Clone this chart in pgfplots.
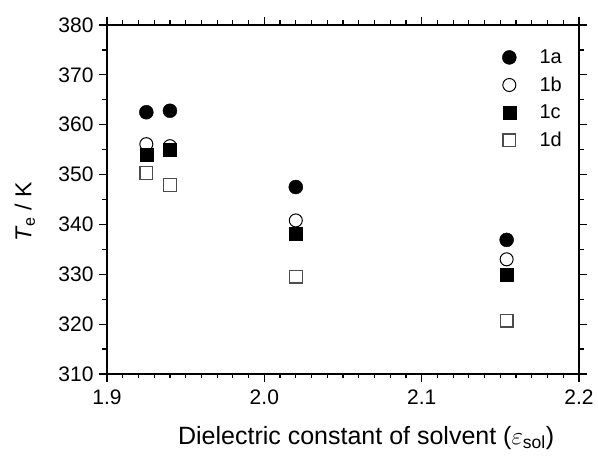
\documentclass[border=0pt]{standalone}
\usepackage{fontspec}
\setmainfont{Liberation Sans}
\usepackage{pgfplots}
\pgfplotsset{compat=1.18}
\pgfplotsset{
  widelegend/.style={
    legend image code/.code={%
      \path (0bp,-1bp) (38bp,1bp);
      \draw[mark repeat=2, mark phase=2, ##1] plot coordinates {(0bp,0bp) (10bp,0bp) (38bp,0bp)};}},
}

\begin{document}
\begin{tikzpicture}[x=1bp,y=1bp]
\path[use as bounding box] (-107,-85) rectangle (491,374);
\begin{axis}[
  at={(0,0)}, anchor=south west,
  scale only axis, width=472bp, height=349bp,
  xmin=1.9, xmax=2.2, ymin=310, ymax=380,
  xtick={1.9,2.0,2.1,2.2}, ytick={310,320,...,380},
  minor x tick num=9, minor y tick num=1,
  tick align=outside, major tick length=8bp, minor tick length=4.5bp,
  axis line style={line width=1.2bp},
  every tick/.style={line width=1.2bp, black},
  font=\fontsize{21bp}{25bp}\selectfont,
  /pgf/number format/assume math mode=true,
  xticklabel style={yshift=-4bp, /pgf/number format/.cd, fixed, fixed zerofill, precision=1},
  yticklabel style={xshift=-2bp, /pgf/number format/.cd, fixed, precision=0},
  xlabel={Dielectric constant of solvent ($\varepsilon$\textsubscript{sol})},
  ylabel={\textit{T}\textsubscript{e} / K},
  x label style={at={(axis description cs:0.549,0)}, anchor=center, yshift=-64bp,
    font=\fontsize{25bp}{29bp}\selectfont},
  y label style={at={(axis description cs:-0.174,0.464)}, anchor=center,
    font=\fontsize{23bp}{28bp}\selectfont},
  legend style={draw=none, fill=none, at={(axis description cs:0.824,0.941)},
    anchor=north west, row sep=8bp, font=\fontsize{20bp}{24bp}\selectfont},
  legend cell align=left,
]
% 1a
\addplot[only marks, widelegend, mark=*, mark size=7bp, mark options={fill=black, draw=black}]
  coordinates {(1.925,362.5) (1.940,362.8) (2.020,347.5) (2.154,336.9)};
% 1b
\addplot[only marks, widelegend, mark=*, mark size=6.5bp, mark options={fill=white, draw=black, line width=1bp}]
  coordinates {(1.925,356.1) (1.940,355.7) (2.020,340.8) (2.154,333.0)};
% 1c
\addplot[only marks, widelegend, mark=square*, mark size=6.5bp, mark options={fill=black, draw=black}]
  coordinates {(1.925,353.9) (1.940,354.9) (2.020,338.1) (2.154,329.9)};
% 1d
\addplot[only marks, widelegend, mark=square*, mark size=6.3bp, mark options={fill=white, draw=black!70, line width=1.2bp}]
  coordinates {(1.925,350.3) (1.940,347.9) (2.020,329.5) (2.154,320.7)};
\legend{1a,1b,1c,1d}
\end{axis}
\end{tikzpicture}
\end{document}
